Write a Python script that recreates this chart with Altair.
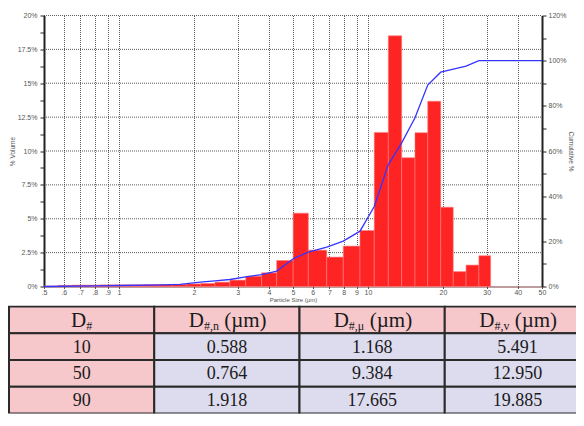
import altair as alt
import pandas as pd

# ---------------- data ----------------
# histogram bins (particle size, µm) and % volume
bin_lo = [0.5, 0.57, 0.65, 0.74, 0.84, 0.96, 1.1, 1.26, 1.44, 1.64, 1.87, 2.13,
          2.43, 2.79, 3.23, 3.74, 4.30, 5.01, 5.76, 6.83, 7.96, 9.29,
          10.6, 12.07, 13.66, 15.45, 17.38, 19.6, 22.0, 24.77, 27.9]
bin_hi = bin_lo[1:] + [31.1]
volume = [0.03, 0.08, 0.1, 0.1, 0.12, 0.12, 0.12, 0.13, 0.14, 0.16, 0.19, 0.22,
          0.32, 0.47, 0.76, 1.01, 1.92, 5.41, 2.68, 2.17, 2.98, 4.13,
          11.37, 18.5, 9.5, 11.35, 13.67, 5.85, 1.1, 1.58, 2.27]

# cumulative curve
cum_size = [0.5, 0.6, 0.8, 1.0, 1.5, 1.76, 2.12, 2.43, 2.79, 3.23, 3.74, 4.30,
            5.01, 5.76, 6.83, 7.96, 9.29, 10.6, 12.07, 13.66, 15.45, 17.38,
            19.6, 24.77, 27.9, 50]
cum_pct = [0, 0.1, 0.3, 0.45, 0.75, 0.9, 1.9, 2.5, 3.1, 4.3, 5.3, 6.8,
           12.3, 15.2, 17.4, 20.1, 24.5, 35.4, 54.0, 63.6, 74.7, 89.2,
           94.9, 97.6, 100, 100]

x_ticks = [0.5, 0.6, 0.7, 0.8, 0.9, 1, 2, 3, 4, 5, 6, 7, 8, 9, 10, 20, 30, 40, 50]
y_ticks = [i * 1.25 for i in range(17)]
y_grid = [i * 2.5 for i in range(1, 9)]
y2_ticks = list(range(0, 121, 10))

# table
col_keys = ["D", "Dn", "Dmu", "Dv"]
row_keys = ["head", "10", "50", "90"]
d_percent = ["10", "50", "90"]
d_n = ["0.588", "0.764", "1.918"]
d_mu = ["1.168", "9.384", "17.665"]
d_v = ["5.491", "12.950", "19.885"]
head_main = ["D", "D", "D", "D"]
head_sub = ["#", "#,n", "#,μ", "#,v"]
head_unit = ["", "(µm)", "(µm)", "(µm)"]

# ---------------- histogram ----------------
FA = "Liberation Sans"
bars_df = pd.DataFrame({"lo": bin_lo, "hi": bin_hi, "vol": volume})
cum_df = pd.DataFrame({"size": cum_size, "cum": cum_pct})
grid_df = pd.DataFrame({"g": y_grid})

PLOT_L, PLOT_R, PLOT_H = 36, 534, 271
xscale = alt.Scale(type="log", domain=[0.5, 50], range=[PLOT_L, PLOT_R])
yscale = alt.Scale(domain=[0, 20], nice=False)

x_axis = alt.Axis(
    values=x_ticks,
    labelExpr="datum.value < 1 ? '.' + round(datum.value * 10) : '' + datum.value",
    title="Particle Size (µm)", grid=True, gridDash=[1, 1], gridColor="#333",
    gridOpacity=0.8, tickSize=2, tickColor="#555", labelFontSize=7,
    labelColor="#555", labelFont=FA, labelPadding=0, labelOverlap=False,
    labelFlush=False, labelBound=False, titleFontSize=6, titleFont=FA,
    titleFontWeight="normal", titleColor="#555", titlePadding=1,
    domainColor="#7a3a3a")

y_axis = alt.Axis(
    values=y_ticks, offset=-PLOT_L,
    labelExpr="datum.value % 2.5 === 0 ? datum.value + '%' : ''",
    title="% Volume", grid=False,
    tickSize=4, tickColor="#222", domainWidth=2, domainColor="#222",
    labelFontSize=7, labelColor="#555", labelFont=FA, labelPadding=3,
    labelOverlap=False, labelFlush=False, titleFontSize=6.5, titleFont=FA,
    titleFontWeight="normal", titleColor="#555", titlePadding=1.5)

y2_axis = alt.Axis(
    values=y2_ticks, orient="right",
    labelExpr="datum.value % 20 === 0 ? datum.value + '%' : ''",
    title="Cumulative %", grid=False, tickSize=4, tickColor="#222",
    domainWidth=2, domainColor="#222", labelFontSize=7, labelColor="#555",
    labelFont=FA, labelPadding=2, labelOverlap=False, labelFlush=False,
    titleFontSize=6.5, titleFont=FA, titleFontWeight="normal",
    titleColor="#555", titlePadding=2)

grid = alt.Chart(grid_df).mark_rule(
    color="#333", strokeDash=[1, 1], opacity=0.8, strokeWidth=1
).encode(
    y=alt.Y("g:Q", scale=yscale, axis=y_axis),
    x=alt.XDatum(0.5, scale=xscale, axis=x_axis),
    x2=alt.X2Datum(50),
)

bars = alt.Chart(bars_df).mark_rect(
    color="#ff2424", stroke="#ff7a7a", strokeWidth=0.6
).encode(
    x=alt.X("lo:Q", scale=xscale, axis=x_axis),
    x2="hi:Q",
    y=alt.Y("vol:Q", scale=yscale, axis=y_axis),
    y2=alt.datum(0),
)

line = alt.Chart(cum_df).mark_line(color="#3535ff", strokeWidth=1.3).encode(
    x=alt.X("size:Q", scale=xscale, axis=x_axis),
    y=alt.Y("cum:Q", scale=alt.Scale(domain=[0, 120], nice=False), axis=y2_axis),
)

top = alt.layer(alt.layer(grid, bars), line).resolve_scale(y="independent").properties(
    width=PLOT_R, height=PLOT_H)

# ---------------- table ----------------
FT = "Liberation Serif"
cells = []
for r in row_keys:
    for c in col_keys:
        cells.append({"row": r, "col": c,
                      "kind": "pink" if (r == "head" or c == "D") else "blue"})
cells_df = pd.DataFrame(cells)

body = []
for i, r in enumerate(row_keys[1:]):
    for c, vals in zip(col_keys, [d_percent, d_n, d_mu, d_v]):
        body.append({"row": r, "col": c, "text": vals[i]})
body_df = pd.DataFrame(body)

head_df = pd.DataFrame({"row": ["head"] * 4, "col": col_keys, "main": head_main,
                        "sub": head_sub, "unit": head_unit})

TW, TH = 568, 108
# the last column runs past the right edge and is cut there, as in the picture
xs = alt.Scale(domain=col_keys, paddingInner=0, paddingOuter=0, range=[1, 582])
ys = alt.Scale(domain=row_keys, paddingInner=0, paddingOuter=0, range=[1, TH])
X = alt.X("col:N", scale=xs, axis=None)
Y = alt.Y("row:N", scale=ys, axis=None)

cell_layer = alt.Chart(cells_df).mark_rect(
    stroke="#2a2a2a", strokeWidth=2, clip=True
).encode(
    x=X, y=Y,
    color=alt.Color("kind:N", scale=alt.Scale(domain=["pink", "blue"],
                                              range=["#f6c8cc", "#dddcee"]),
                    legend=None))

text_layer = alt.Chart(body_df).mark_text(
    font=FT, fontSize=18, color="#1a1a1a", baseline="middle", dy=1, clip=True
).encode(x=X, y=Y, text="text:N")

MAIN_FS, SUB_FS = 21, 12
W_D = 0.722 * MAIN_FS
W_UNIT = 1.944 * MAIN_FS
GAP = 0.25 * MAIN_FS
def sub_w(s):
    w = {"#": 0.5, ",": 0.25, "n": 0.5, "μ": 0.55, "v": 0.5}
    return sum(w.get(ch, 0.5) for ch in s) * SUB_FS

head_layers = []
for i, c in enumerate(col_keys):
    sw = sub_w(head_sub[i])
    total = W_D + sw + ((GAP + W_UNIT) if head_unit[i] else 0)
    start = -total / 2
    src = alt.Chart(head_df).transform_filter(alt.datum.col == c)
    head_layers.append(src.mark_text(font=FT, fontSize=MAIN_FS, color="#1a1a1a",
                                     align="left", baseline="middle", dx=start, dy=1,
                                     clip=True)
                       .encode(x=X, y=Y, text="main:N"))
    head_layers.append(src.mark_text(font=FT, fontSize=SUB_FS, color="#1a1a1a",
                                     align="left", baseline="middle",
                                     dx=start + W_D, dy=6, clip=True)
                       .encode(x=X, y=Y, text="sub:N"))
    if head_unit[i]:
        head_layers.append(src.mark_text(font=FT, fontSize=MAIN_FS, color="#1a1a1a",
                                         align="left", baseline="middle",
                                         dx=start + W_D + sw + GAP, dy=1, clip=True)
                           .encode(x=X, y=Y, text="unit:N"))

table = alt.layer(cell_layer, text_layer, *head_layers).properties(
    width=TW, height=TH)

chart = alt.vconcat(top, table, spacing=3).properties(
    padding={"left": 0, "top": 3.5, "right": 0, "bottom": 0},
).configure_view(stroke=None)

chart.save("out.html", embed_options={"renderer": "svg", "actions": False})
